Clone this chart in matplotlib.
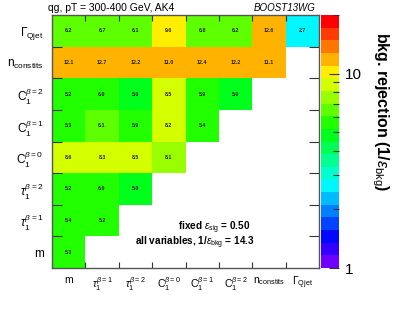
import numpy as np
import matplotlib
matplotlib.use("Agg")
import matplotlib.pyplot as plt
from matplotlib.colors import ListedColormap, LogNorm

plt.rcParams["font.family"] = ["Liberation Sans", "DejaVu Sans"]
plt.rcParams["mathtext.fontset"] = "custom"
plt.rcParams["mathtext.rm"] = "Liberation Sans"
plt.rcParams["mathtext.it"] = "Liberation Sans:italic"
plt.rcParams["mathtext.bf"] = "Liberation Sans:bold"

# --- variaveis (de baixo para cima / esquerda para direita) ---
labels = [r"m", r"$\tau_1^{\beta=1}$", r"$\tau_1^{\beta=2}$", r"$\mathrm{C}_1^{\beta=0}$",
          r"$\mathrm{C}_1^{\beta=1}$", r"$\mathrm{C}_1^{\beta=2}$",
          r"$\mathrm{n}_{\mathrm{constits}}$", r"$\Gamma_{\mathrm{Qjet}}$"]

# --- rejeicao por linha (linha i tem i+1 valores) ---
row_m = [5.3]
row_tau1 = [5.4, 5.2]
row_tau2 = [5.2, 6.0, 5.0]
row_c0 = [8.6, 8.3, 8.5, 8.1]
row_c1 = [5.3, 6.1, 5.9, 8.2, 5.4]
row_c2 = [5.2, 6.0, 5.0, 8.5, 5.9, 5.0]
row_nconst = [12.1, 12.7, 12.2, 11.0, 12.4, 12.2, 11.1]
row_qjet = [6.2, 6.7, 6.1, 9.6, 6.8, 6.2, 12.6, 2.7]
rows = [row_m, row_tau1, row_tau2, row_c0, row_c1, row_c2, row_nconst, row_qjet]

# paleta estilo ROOT, 20 niveis
palette = ["#6e00ff", "#3300ff", "#0008ff", "#0044ff", "#0080ff", "#00bbff", "#00f7ff",
           "#00ffcc", "#00ff91", "#00ff55", "#00ff1a", "#22ff00", "#5eff00", "#99ff00",
           "#d4ff00", "#ffee00", "#ffb300", "#ff7700", "#ff3b00", "#ff0000"]
cmap = ListedColormap(palette)
norm = LogNorm(vmin=1, vmax=20)

n = len(labels)
Z = np.full((n, n), np.nan)
for i, r in enumerate(rows):
    Z[i, :len(r)] = r
Z = np.ma.masked_invalid(Z)

fig = plt.figure(figsize=(3.99, 3.09), dpi=100)
ax = fig.add_axes([52/399, 1-268/309, 267/399, 253/309])
cax = fig.add_axes([321/399, 1-268/309, 18/399, 253/309])

edges = np.arange(n + 1)
mesh = ax.pcolormesh(edges, edges, Z, cmap=cmap, norm=norm)

for i, r in enumerate(rows):
    for j, v in enumerate(r):
        ax.text(j + 0.5, i + 0.5, f"{v:.1f}", ha="center", va="center",
                fontsize=3.8, fontweight="bold", color="#222222")

ax.set_xlim(0, n)
ax.set_ylim(0, n)
ax.set_xticks(edges[1:-1])
ax.set_yticks(edges[1:-1])
ax.set_xticklabels([])
ax.set_yticklabels([])
ax.set_xticks(edges[:-1] + 0.5, minor=True)
ax.set_yticks(edges[:-1] + 0.5, minor=True)
ax.set_xticklabels(labels, minor=True, fontsize=7.5)
ax.set_yticklabels(labels, minor=True, fontsize=8.5)
ax.tick_params(axis="x", which="major", direction="in", length=4.5, width=0.8,
               top=True, color="#333333")
ax.tick_params(axis="y", which="major", direction="in", length=7, width=0.8,
               right=True, color="#333333")
ax.tick_params(axis="x", which="minor", length=0, pad=5)
ax.tick_params(axis="y", which="minor", length=0, pad=6)
for s in ax.spines.values():
    s.set_color("#555555")
    s.set_linewidth(1.0)

cb = fig.colorbar(mesh, cax=cax)
cb.outline.set_visible(False)
cax.tick_params(which="both", direction="in", right=True, color="#333333", width=0.8)
cax.tick_params(which="major", length=7, labelsize=11, pad=4)
cax.tick_params(which="minor", length=4)
cax.set_yticks([1, 10])
cax.set_yticklabels(["1", "10"])
cax.yaxis.set_minor_formatter(plt.NullFormatter())

fig.text(380/399, 1-112/309, r"bkg. rejection (1/$\varepsilon_{\mathrm{bkg}}$)",
         rotation=-90, ha="center", va="center", fontsize=11.5, fontweight="bold")

fig.text(48/399, 1-8/309, "qg, pT = 300-400 GeV, AK4", ha="left", va="center", fontsize=7.5)
fig.text(316/399, 1-8/309, "BOOST13WG", ha="right", va="center", fontsize=7, style="italic")

ax.text(5.95, 1.27, r"fixed $\varepsilon_{\mathrm{sig}}$ = 0.50", ha="right", va="center",
        fontsize=7.2, fontweight="bold")
ax.text(6.07, 0.79, r"all variables, 1/$\varepsilon_{\mathrm{bkg}}$ = 14.3", ha="right", va="center",
        fontsize=7.2, fontweight="bold")

fig.savefig("out.png", dpi=100)
